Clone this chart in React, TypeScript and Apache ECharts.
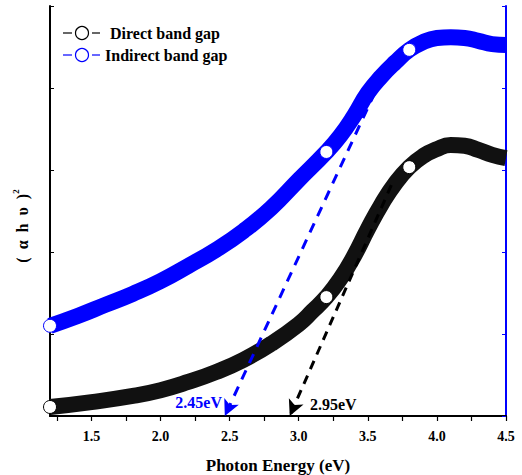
import React, { useEffect, useRef } from "react";
import * as echarts from "echarts";

// Photon energy (eV) and (αhν)^n values
const directX = [1.2, 1.5, 1.8, 2.0, 2.2, 2.4, 2.6, 2.8, 3.0, 3.1, 3.2, 3.3, 3.4, 3.5, 3.6, 3.7, 3.8, 3.9, 4.0, 4.1, 4.2, 4.3, 4.4, 4.5];
const directY = [2.2, 3.4, 4.9, 6.3, 8.3, 10.7, 13.7, 17.6, 22.4, 25.6, 29.0, 33.4, 39.0, 45.6, 51.7, 56.8, 60.7, 63.4, 65.1, 66.1, 65.9, 64.9, 63.7, 62.9];
const indirectX = [1.2, 1.4, 1.6, 1.8, 2.0, 2.2, 2.4, 2.6, 2.8, 3.0, 3.2, 3.3, 3.4, 3.5, 3.6, 3.7, 3.8, 3.9, 4.0, 4.1, 4.2, 4.3, 4.4, 4.5];
const indirectY = [22.0, 24.4, 27.1, 29.8, 32.9, 36.6, 40.5, 45.1, 50.7, 57.6, 64.4, 68.3, 73.2, 78.8, 82.9, 86.3, 89.3, 91.2, 92.2, 92.4, 92.2, 91.5, 90.7, 90.5];

// Tangent extrapolations: [start, end(intercept)]
const directTangent = [[3.67, 56.3], [2.935, 0]];
const indirectTangent = [[3.66, 86.8], [2.465, 0]];
const directGapLabel = "2.95eV";
const indirectGapLabel = "2.45eV";

const xLabelTicks = [1.5, 2.0, 2.5, 3.0, 3.5, 4.0, 4.5];
const xTicks = [1.25, 1.5, 1.75, 2.0, 2.25, 2.5, 2.75, 3.0, 3.25, 3.5, 3.75, 4.0, 4.25, 4.5];

const seriesNames = ["Direct band gap", "Indirect band gap"];
const markerIdx = { direct: [0, 10, 16], indirect: [0, 10, 16] };

const FONT = "'Liberation Serif', 'Times New Roman', serif";

function buildData(xs: number[], ys: number[], marks: number[], color: string) {
  return xs.map((x, i) =>
    marks.includes(i)
      ? {
          value: [x, ys[i]],
          symbol: "circle",
          symbolSize: 13,
          itemStyle: { color: "#fff", borderColor: color, borderWidth: 1 },
        }
      : { value: [x, ys[i]], symbol: "none" }
  );
}

export default function App() {
  const ref = useRef<HTMLDivElement>(null);
  useEffect(() => {
    if (!ref.current) return;
    const chart = echarts.init(ref.current, null, { renderer: "svg" });
    const option: any = {
      animation: false,
      backgroundColor: "#fff",
      grid: { left: 50, right: 16, top: 6, bottom: 59, containLabel: false, outerBoundsMode: "none" },
      xAxis: [
        {
          type: "value",
          min: 1.2,
          max: 4.5,
          name: "Photon Energy (eV)",
          nameLocation: "middle",
          nameGap: 41,
          nameTextStyle: { fontFamily: FONT, fontWeight: "bold", fontSize: 17, color: "#000" },
          axisLine: { show: true, lineStyle: { color: "#000", width: 2 } },
          axisTick: { show: true, inside: false, length: 5, lineStyle: { color: "#000", width: 1.2 }, customValues: xTicks },
          axisLabel: {
            show: true,
            margin: 13,
            fontFamily: FONT,
            fontWeight: "bold",
            fontSize: 14,
            color: "#000",
            customValues: xLabelTicks,
            formatter: (v: number) => v.toFixed(1),
          },
          splitLine: { show: false },
        },
        {
          type: "value",
          position: "top",
          min: 1.2,
          max: 4.5,
          axisLine: { show: true, lineStyle: { color: "#000", width: 1.5 } },
          axisTick: { show: true, inside: true, length: 4, lineStyle: { color: "#000" }, customValues: xTicks },
          axisLabel: { show: false },
          splitLine: { show: false },
        },
      ],
      yAxis: [
        {
          type: "value",
          min: 0,
          max: 100,
          interval: 20,
          axisLine: { show: true, lineStyle: { color: "#000", width: 2 } },
          axisTick: { show: true, inside: true, length: 4, lineStyle: { color: "#000" } },
          axisLabel: { show: false },
          splitLine: { show: false },
        },
        {
          type: "value",
          position: "right",
          min: 0,
          max: 100,
          interval: 20,
          axisLine: { show: true, lineStyle: { color: "#0000ff", width: 2 } },
          axisTick: { show: true, inside: true, length: 4, lineStyle: { color: "#0000ff" } },
          axisLabel: { show: false },
          splitLine: { show: false },
        },
      ],
      series: [
        {
          name: seriesNames[0],
          type: "line",
          smooth: 0.5,
          data: buildData(directX, directY, markerIdx.direct, "#000"),
          lineStyle: { color: "#111", width: 16 },
          itemStyle: { color: "#000" },
          z: 2,
          markLine: {
            silent: true,
            symbol: ["none", "arrow"],
            symbolSize: [12, 16],
            label: { show: false },
            lineStyle: { color: "#000", width: 3, type: [9, 7] },
            data: [[{ coord: directTangent[0] }, { coord: directTangent[1] }]],
          },
        },
        {
          name: seriesNames[1],
          type: "line",
          smooth: 0.5,
          data: buildData(indirectX, indirectY, markerIdx.indirect, "#0000ff"),
          lineStyle: { color: "#0000ff", width: 16 },
          itemStyle: { color: "#0000ff" },
          z: 2,
          markLine: {
            silent: true,
            symbol: ["none", "arrow"],
            symbolSize: [12, 16],
            label: { show: false },
            lineStyle: { color: "#0000ff", width: 3, type: [10, 8] },
            data: [[{ coord: indirectTangent[0] }, { coord: indirectTangent[1] }]],
          },
        },
      ],
      graphic: [
        // legend
        { type: "line", shape: { x1: 63, y1: 33, x2: 72, y2: 33 }, style: { stroke: "#000", lineWidth: 1.2 } },
        { type: "circle", shape: { cx: 82, cy: 33, r: 6.5 }, style: { fill: "#fff", stroke: "#000", lineWidth: 1.2 } },
        { type: "line", shape: { x1: 92, y1: 33, x2: 100, y2: 33 }, style: { stroke: "#000", lineWidth: 1.2 } },
        {
          type: "text",
          x: 110,
          y: 33,
          style: { text: seriesNames[0], fontFamily: FONT, fontWeight: "bold", fontSize: 16, fill: "#000", verticalAlign: "middle" },
        },
        { type: "line", shape: { x1: 63, y1: 55, x2: 72, y2: 55 }, style: { stroke: "#0000ff", lineWidth: 1.2 } },
        { type: "circle", shape: { cx: 82, cy: 55, r: 6.5 }, style: { fill: "#fff", stroke: "#0000ff", lineWidth: 1.2 } },
        { type: "line", shape: { x1: 92, y1: 55, x2: 100, y2: 55 }, style: { stroke: "#0000ff", lineWidth: 1.2 } },
        {
          type: "text",
          x: 105,
          y: 55,
          style: { text: seriesNames[1], fontFamily: FONT, fontWeight: "bold", fontSize: 16, fill: "#000", verticalAlign: "middle" },
        },
        // gap labels
        {
          type: "text",
          x: 222,
          y: 402,
          style: { text: indirectGapLabel, fontFamily: FONT, fontWeight: "bold", fontSize: 16, fill: "#0000ff", align: "right", verticalAlign: "middle" },
        },
        {
          type: "text",
          x: 310,
          y: 404,
          style: { text: directGapLabel, fontFamily: FONT, fontWeight: "bold", fontSize: 16, fill: "#000", align: "left", verticalAlign: "middle" },
        },
        // y-axis title
        {
          type: "text",
          x: 22,
          y: 226,
          rotation: Math.PI / 2,
          style: {
            text: "(  α  h  υ  ){sup|2}",
            fontFamily: FONT,
            fontWeight: "bold",
            fontSize: 16,
            fill: "#000",
            align: "center",
            verticalAlign: "middle",
            rich: { sup: { fontFamily: FONT, fontWeight: "bold", fontSize: 9, padding: [0, 0, 12, 0] } },
          },
        },
      ],
    };
    chart.setOption(option);
    return () => chart.dispose();
  }, []);
  return <div ref={ref} style={{ position: "fixed", left: 0, top: 0, width: 522, height: 475 }} />;
}
